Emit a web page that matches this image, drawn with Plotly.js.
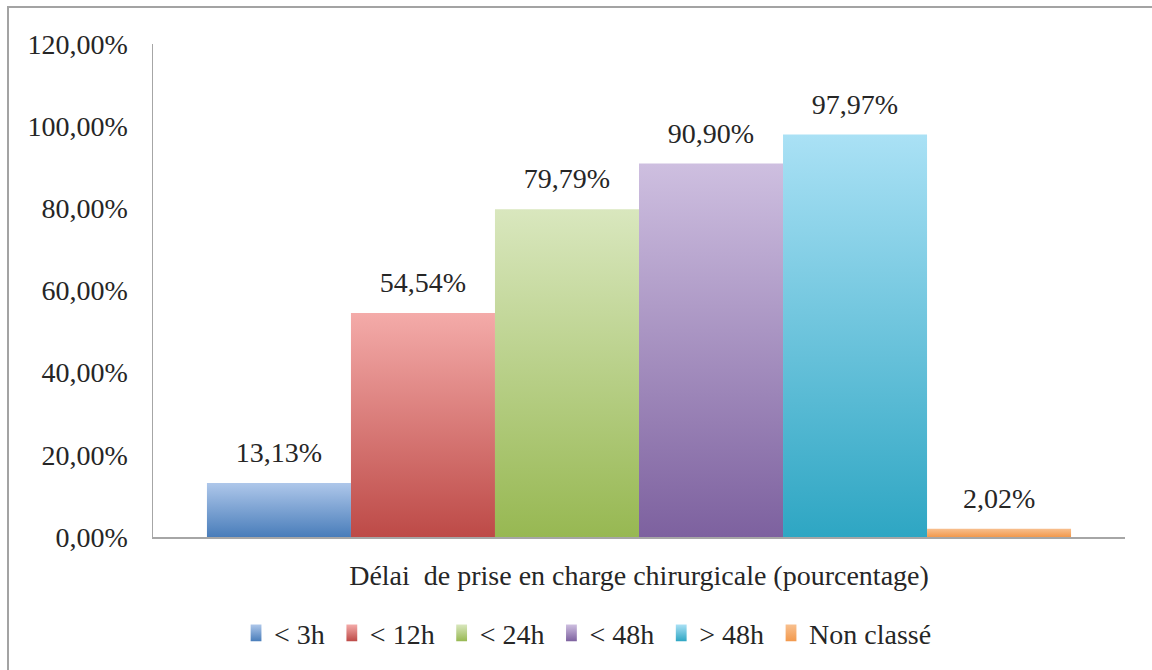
<!DOCTYPE html>
<html>
<head>
<meta charset="utf-8">
<script src="https://cdn.plot.ly/plotly-3.0.1.min.js"></script>
<style>
  html, body { margin: 0; padding: 0; background: #ffffff; }
  #wrap { position: relative; width: 1152px; height: 670px; overflow: hidden; }
  #chart { position: absolute; left: 0; top: 0; width: 1152px; height: 670px; }
  #frame { position: absolute; left: 7px; top: 6px; width: 1160px; height: 680px;
           border: 2px solid #a3a3a3; box-sizing: border-box; pointer-events: none; }
</style>
</head>
<body>
<div id="wrap">
  <div id="chart"></div>
  <div id="frame"></div>
</div>
<script>
// ---- data ----
const category = ["Délai  de prise en charge chirurgicale (pourcentage)"];
const seriesNames = ["< 3h", "< 12h", "< 24h", "< 48h", "> 48h", "Non classé"];
const seriesValues = [0.1313, 0.5454, 0.7979, 0.9090, 0.9797, 0.0202];
const yTickValues = [0, 0.2, 0.4, 0.6, 0.8, 1.0, 1.2];

// ---- styles ----
const midColors = ["#7ca1d3", "#d97b78", "#b7d08a", "#a38fc0", "#6cc5de", "#f5a868"];
const topColors = ["#aec7ea", "#f4aba9", "#d9e7be", "#cebfe0", "#aae1f5", "#f8c08f"];
const bottomColors = ["#497dba", "#bd4a47", "#97b852", "#7d619f", "#2ea6c3", "#f2994d"];
const FONT = "Liberation Serif, Times New Roman, serif";
const FSIZE = 28;

const traces = seriesNames.map((name, i) => ({
  type: "bar",
  name: name,
  x: category,
  y: [seriesValues[i]],
  marker: { color: midColors[i], line: { width: 0 } },
  texttemplate: "%{y:.2%}",
  textposition: "outside",
  textfont: { family: FONT, size: FSIZE, color: "#262626" },
  cliponaxis: false,
  hoverinfo: "skip"
}));

const layout = {
  width: 1152,
  height: 670,
  margin: { l: 153, r: 27, t: 44, b: 133 },
  paper_bgcolor: "#ffffff",
  plot_bgcolor: "#ffffff",
  separators: ", ",
  barmode: "group",
  bargap: 0.111,
  bargroupgap: 0,
  showlegend: true,
  font: { family: FONT, size: FSIZE, color: "#262626" },
  xaxis: {
    type: "category",
    showgrid: false,
    zeroline: false,
    showline: true,
    linecolor: "#a6a6a6",
    linewidth: 2,
    ticks: "",
    ticklabelstandoff: 12,
    tickfont: { family: FONT, size: FSIZE, color: "#262626" }
  },
  yaxis: {
    range: [0, 1.2],
    tickvals: yTickValues,
    tickformat: ".2%",
    showgrid: false,
    zeroline: false,
    showline: true,
    linecolor: "#a6a6a6",
    linewidth: 1.5,
    ticks: "",
    ticklabelstandoff: 18,
    tickfont: { family: FONT, size: FSIZE, color: "#262626" }
  },
  legend: {
    orientation: "h",
    x: 0.445,
    xanchor: "center",
    y: -0.195,
    yanchor: "middle",
    traceorder: "normal",
    itemwidth: 30,
    font: { family: FONT, size: FSIZE, color: "#262626" },
    bgcolor: "rgba(0,0,0,0)"
  }
};

Plotly.newPlot("chart", traces, layout, { displayModeBar: false, staticPlot: true }).then(gd => {
  // vertical gradient fills, as in the reference
  const svg = gd.querySelector("svg.main-svg");
  const NS = "http://www.w3.org/2000/svg";
  let defs = svg.querySelector("defs");
  if (!defs) { defs = document.createElementNS(NS, "defs"); svg.insertBefore(defs, svg.firstChild); }
  seriesNames.forEach((n, i) => {
    const lg = document.createElementNS(NS, "linearGradient");
    lg.setAttribute("id", "grad" + i);
    lg.setAttribute("x1", "0"); lg.setAttribute("y1", "0");
    lg.setAttribute("x2", "0"); lg.setAttribute("y2", "1");
    const s1 = document.createElementNS(NS, "stop");
    s1.setAttribute("offset", "0"); s1.setAttribute("stop-color", topColors[i]);
    const s2 = document.createElementNS(NS, "stop");
    s2.setAttribute("offset", "1"); s2.setAttribute("stop-color", bottomColors[i]);
    lg.appendChild(s1); lg.appendChild(s2);
    defs.appendChild(lg);
  });
  gd.querySelectorAll(".barlayer .trace").forEach((t, i) => {
    t.querySelectorAll(".point path").forEach(p => { p.style.fill = "url(#grad" + i + ")"; });
    // extra padding between value label and bar top, as in the reference
    t.querySelectorAll(".point text").forEach(tx => {
      tx.setAttribute("transform", "translate(0,-12) " + (tx.getAttribute("transform") || ""));
    });
  });
  gd.querySelectorAll(".legend .traces").forEach((t, i) => {
    t.querySelectorAll(".legendpoints path").forEach(p => {
      p.style.fill = "url(#grad" + i + ")";
      // taller, narrower swatch like the reference
      p.setAttribute("transform", "translate(4,0) scale(0.9,1.4) " + (p.getAttribute("transform") || ""));
    });
  });
});
</script>
</body>
</html>
